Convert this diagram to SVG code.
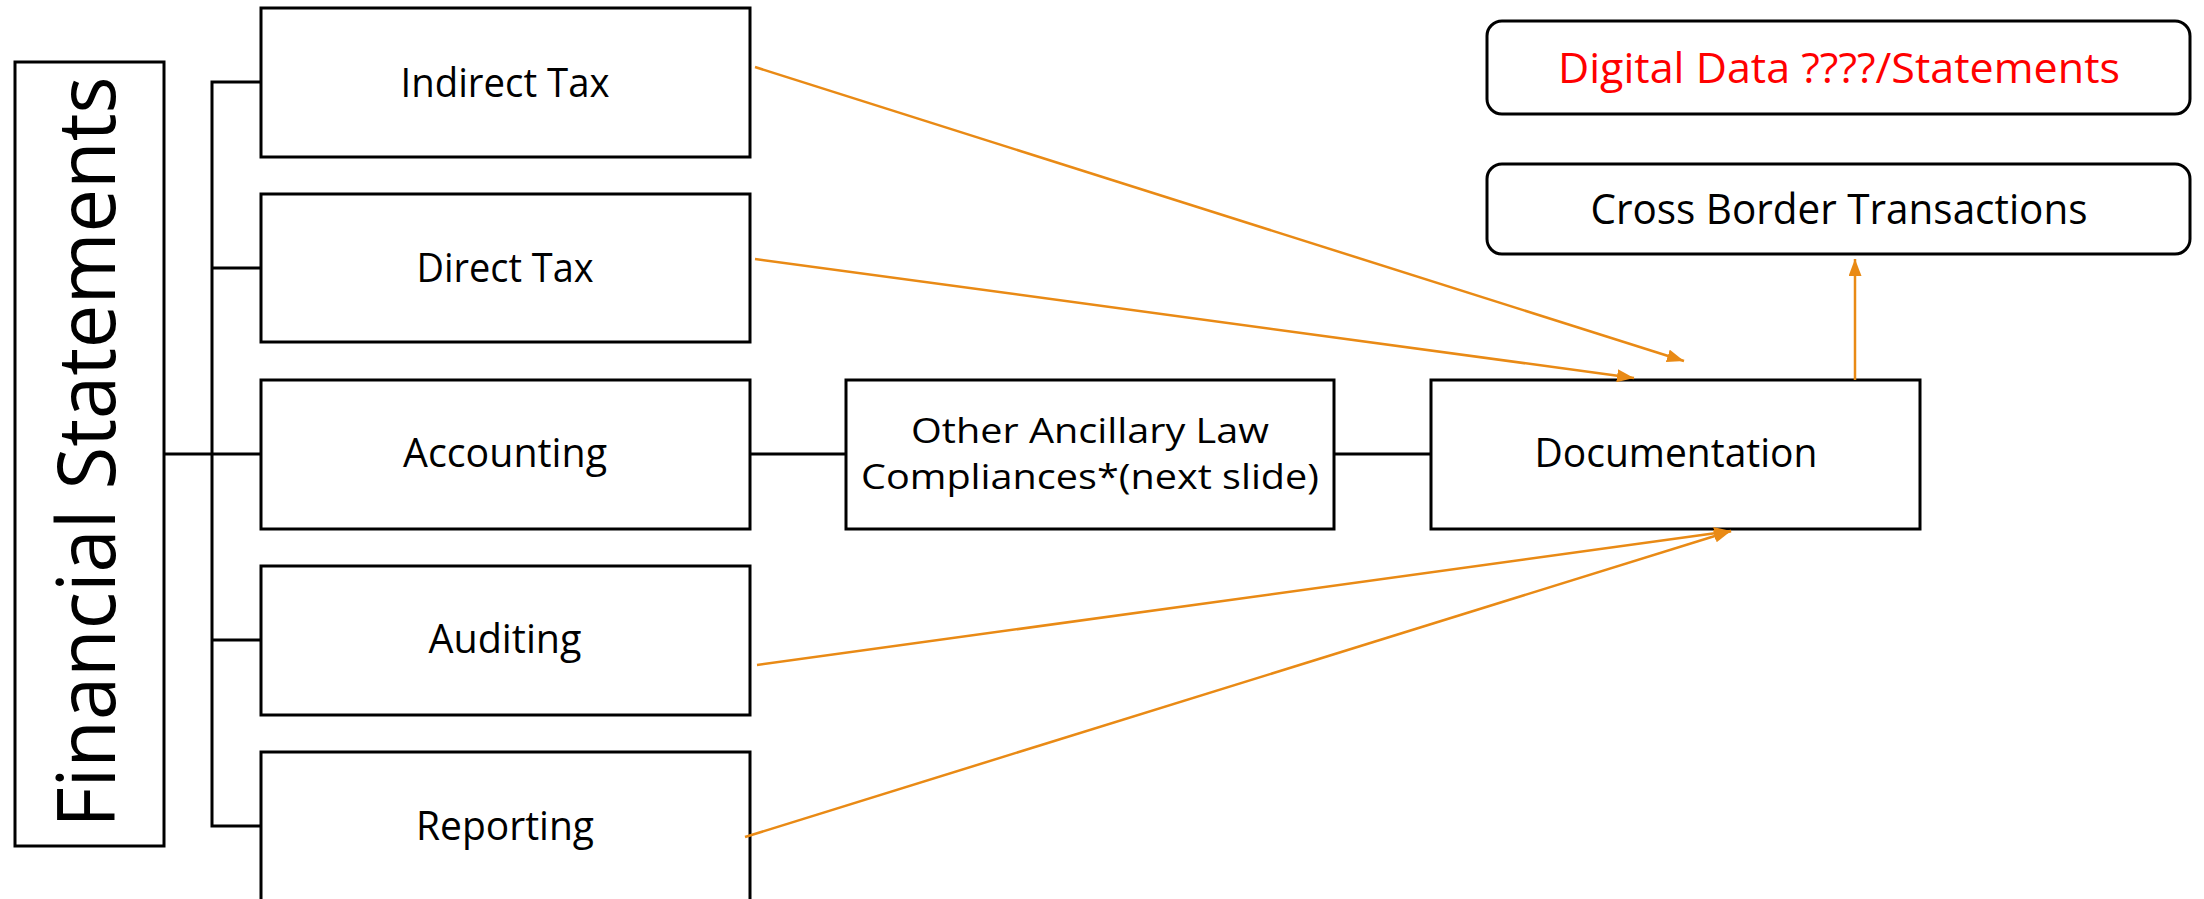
<svg xmlns="http://www.w3.org/2000/svg" width="2204" height="899" viewBox="0 0 2204 899">
  <style>
    .box { fill: #ffffff; stroke: #000000; stroke-width: 3; }
    .lbl { font-family: "Open Sans", "Noto Sans", sans-serif; font-size: 40px; fill: #000000; text-anchor: middle; }
    .two { font-size: 35px; }
    .top { font-size: 42px; }
    .red { fill: #ff0000; }
    .title { font-family: "Open Sans", "Noto Sans", sans-serif; font-size: 81px; fill: #000000; text-anchor: middle; }
    .wire { fill: none; stroke: #000000; stroke-width: 3; }
    .flow { fill: none; stroke: #e98a15; stroke-width: 2.5; marker-end: url(#head); }
  </style>
  <defs>
    <marker id="head" viewBox="0 0 17 13" refX="17" refY="6.5" markerWidth="17" markerHeight="13" markerUnits="userSpaceOnUse" orient="auto">
      <path d="M0,0 L17,6.5 L0,13 z" fill="#e98a15"/>
    </marker>
  </defs>
  <rect width="2204" height="899" fill="#ffffff"/>

  <g id="financial-statements">
    <rect class="box" x="15" y="62" width="149" height="784"/>
    <text class="title" transform="translate(115,452) rotate(-90)" textLength="751" lengthAdjust="spacingAndGlyphs">Financial Statements</text>
  </g>

  <g id="indirect-tax">
    <rect class="box" x="261" y="8" width="489" height="149"/>
    <text class="lbl" x="505" y="97" textLength="209" lengthAdjust="spacingAndGlyphs">Indirect Tax</text>
  </g>

  <g id="direct-tax">
    <rect class="box" x="261" y="194" width="489" height="148"/>
    <text class="lbl" x="505" y="282" textLength="177" lengthAdjust="spacingAndGlyphs">Direct Tax</text>
  </g>

  <g id="accounting">
    <rect class="box" x="261" y="380" width="489" height="149"/>
    <text class="lbl" x="505" y="467" textLength="204" lengthAdjust="spacingAndGlyphs">Accounting</text>
  </g>

  <g id="auditing">
    <rect class="box" x="261" y="566" width="489" height="149"/>
    <text class="lbl" x="505" y="653" textLength="153" lengthAdjust="spacingAndGlyphs">Auditing</text>
  </g>

  <g id="reporting">
    <rect class="box" x="261" y="752" width="489" height="150"/>
    <text class="lbl" x="505" y="840" textLength="178" lengthAdjust="spacingAndGlyphs">Reporting</text>
  </g>

  <g id="ancillary-law">
    <rect class="box" x="846" y="380" width="488" height="149"/>
    <text class="lbl two" x="1090" y="443" textLength="358" lengthAdjust="spacingAndGlyphs">Other Ancillary Law</text>
    <text class="lbl two" x="1090" y="489" textLength="458" lengthAdjust="spacingAndGlyphs">Compliances*(next slide)</text>
  </g>

  <g id="documentation">
    <rect class="box" x="1431" y="380" width="489" height="149"/>
    <text class="lbl" x="1676" y="467" textLength="283" lengthAdjust="spacingAndGlyphs">Documentation</text>
  </g>

  <g id="digital-data">
    <rect class="box" x="1487" y="21" width="703" height="93" rx="15" ry="15"/>
    <text class="lbl top red" x="1839" y="83" textLength="562" lengthAdjust="spacingAndGlyphs">Digital Data ????/Statements</text>
  </g>

  <g id="cross-border">
    <rect class="box" x="1487" y="164" width="703" height="90" rx="15" ry="15"/>
    <text class="lbl top" x="1839" y="224" textLength="497" lengthAdjust="spacingAndGlyphs">Cross Border Transactions</text>
  </g>

  <g id="connectors">
    <!-- tree bus from the title box to the five branches -->
    <path class="wire" d="M164,454 H261"/>
    <path class="wire" d="M261,82 H212 V826 H261"/>
    <path class="wire" d="M212,268 H261"/>
    <path class="wire" d="M212,640 H261"/>
    <!-- chain along the middle row -->
    <path class="wire" d="M750,454 H846"/>
    <path class="wire" d="M1334,454 H1431"/>
    <!-- orange arrows into and out of Documentation -->
    <path class="flow" d="M755,67 L1684,361"/>
    <path class="flow" d="M755,259 L1634,378"/>
    <path class="flow" d="M757,665 L1731,531"/>
    <path class="flow" d="M745,837 L1731,531"/>
    <path class="flow" d="M1855,380 L1855,259"/>
  </g>
</svg>
